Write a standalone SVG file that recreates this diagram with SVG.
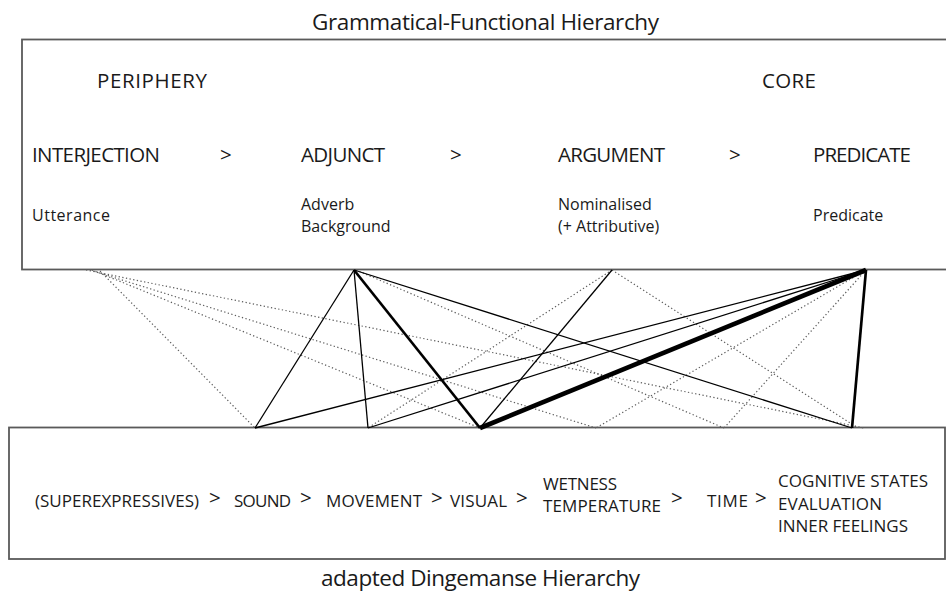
<svg xmlns="http://www.w3.org/2000/svg" width="946" height="594" viewBox="0 0 946 594">
<style>
  text { font-family: "Open Sans", "Liberation Sans", sans-serif; fill: #1a1a1a; }
  .title { font-size: 22.5px; }
  .head { font-size: 20.5px; }
  .sub { font-size: 16px; }
  .cat { font-size: 17px; }
  .box { fill: #fff; stroke: #5a5a5a; stroke-width: 1.8; }
  .s1 { stroke: #000; stroke-width: 1.3; fill: none; }
  .s2 { stroke: #000; stroke-width: 2.7; fill: none; }
  .s3 { stroke: #000; stroke-width: 4.6; fill: none; }
  .d { stroke: #5e5e5e; stroke-width: 1.2; stroke-dasharray: 1.3 2.4; fill: none; }
</style>
<rect width="946" height="594" fill="#fff"/>

<g id="functional-hierarchy">
  <text class="title" x="312" y="30" textLength="347">Grammatical-Functional Hierarchy</text>
  <rect class="box" x="22" y="39.5" width="940" height="230"/>
  <text class="head" x="97" y="88" textLength="110">PERIPHERY</text>
  <text class="head" x="762" y="88" textLength="54">CORE</text>
  <text class="head" x="220" y="162">&gt;</text>
  <text class="head" x="450" y="162">&gt;</text>
  <text class="head" x="729" y="162">&gt;</text>
</g>

<g id="interjection">
  <text class="head" x="32" y="162" textLength="128">INTERJECTION</text>
  <text class="sub" x="32" y="221" textLength="78">Utterance</text>
</g>
<g id="adjunct">
  <text class="head" x="301" y="162" textLength="84">ADJUNCT</text>
  <text class="sub" x="301" y="210">Adverb</text>
  <text class="sub" x="301" y="232">Background</text>
</g>
<g id="argument">
  <text class="head" x="558" y="162" textLength="107">ARGUMENT</text>
  <text class="sub" x="558" y="210">Nominalised</text>
  <text class="sub" x="558" y="232">(+ Attributive)</text>
</g>
<g id="predicate">
  <text class="head" x="813" y="162" textLength="98">PREDICATE</text>
  <text class="sub" x="813" y="221">Predicate</text>
</g>

<g id="dingemanse-hierarchy">
  <rect class="box" x="9" y="427.5" width="936" height="131.5"/>
  <text class="title" x="321" y="586" textLength="319">adapted Dingemanse Hierarchy</text>
  <text class="head" x="209" y="505">&gt;</text>
  <text class="head" x="300" y="505">&gt;</text>
  <text class="head" x="431" y="505">&gt;</text>
  <text class="head" x="516" y="505">&gt;</text>
  <text class="head" x="671" y="505">&gt;</text>
  <text class="head" x="755" y="505">&gt;</text>
</g>
<g id="superexpressives"><text class="cat" x="35" y="507" textLength="164">(SUPEREXPRESSIVES)</text></g>
<g id="sound"><text class="cat" x="234" y="507" textLength="57">SOUND</text></g>
<g id="movement"><text class="cat" x="326" y="507" textLength="96">MOVEMENT</text></g>
<g id="visual"><text class="cat" x="450" y="507" textLength="57">VISUAL</text></g>
<g id="wetness-temperature">
  <text class="cat" x="543" y="490" textLength="74">WETNESS</text>
  <text class="cat" x="543" y="512" textLength="118">TEMPERATURE</text>
</g>
<g id="time"><text class="cat" x="707" y="507" textLength="41">TIME</text></g>
<g id="cognitive">
  <text class="cat" x="778" y="487" textLength="150">COGNITIVE STATES</text>
  <text class="cat" x="778" y="510" textLength="104">EVALUATION</text>
  <text class="cat" x="778" y="532" textLength="130">INNER FEELINGS</text>
</g>

<g id="connectors">
  <!-- dotted: rare -->
  <line class="d" x1="100" y1="271" x2="255" y2="428"/>
  <line class="d" x1="92" y1="270" x2="480" y2="428"/>
  <line class="d" x1="90" y1="270" x2="596" y2="428"/>
  <line class="d" x1="86" y1="270" x2="864" y2="428"/>
  <line class="d" x1="356" y1="270" x2="724" y2="428"/>
  <line class="d" x1="612" y1="270" x2="368" y2="428"/>
  <line class="d" x1="612" y1="270" x2="858" y2="428"/>
  <line class="d" x1="866" y1="270" x2="596" y2="428"/>
  <line class="d" x1="866" y1="270" x2="724" y2="428"/>
  <!-- solid thin -->
  <line class="s1" x1="354" y1="270" x2="255" y2="428"/>
  <line class="s1" x1="354" y1="270" x2="368" y2="428"/>
  <line class="s1" x1="354" y1="270" x2="852" y2="428"/>
  <line class="s1" x1="612" y1="270" x2="480" y2="428"/>
  <line class="s1" x1="866" y1="270" x2="255" y2="428"/>
  <line class="s1" x1="866" y1="270" x2="368" y2="428"/>
  <!-- thick -->
  <line class="s2" x1="354" y1="270" x2="480" y2="428"/>
  <line class="s2" x1="866" y1="270" x2="852" y2="428"/>
  <line class="s3" x1="866" y1="270" x2="480" y2="428"/>
</g>
</svg>
